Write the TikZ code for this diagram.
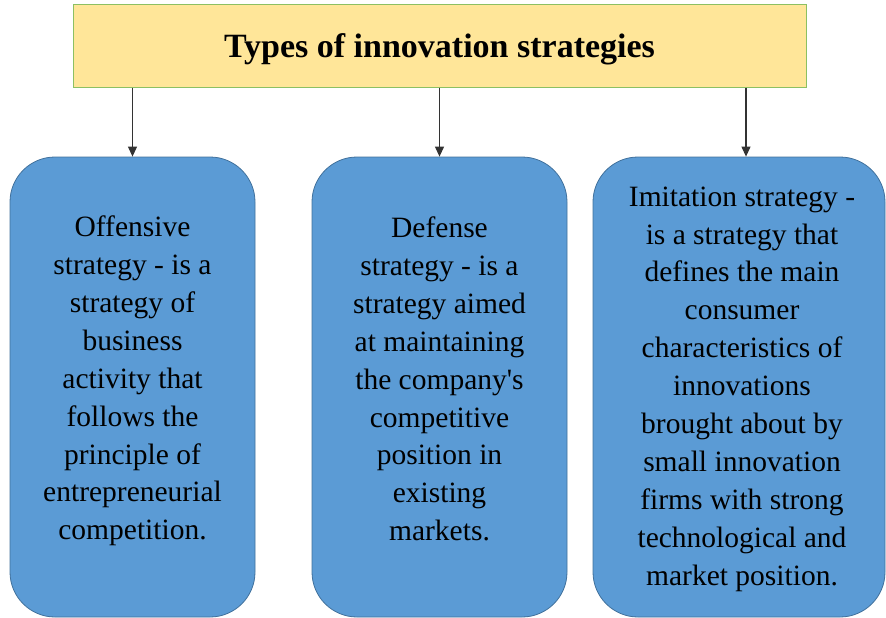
\documentclass[tikz,border=0pt]{standalone}
\usepackage{fontspec}
\setmainfont{Liberation Serif}
\usetikzlibrary{arrows.meta}

\definecolor{titlefill}{HTML}{FFE699}
\definecolor{titleline}{HTML}{8CC063}
\definecolor{stratfill}{HTML}{5B9BD5}
\definecolor{stratline}{HTML}{41719C}

\tikzset{
  titlebox/.style={draw=titleline, fill=titlefill, line width=1pt, text depth=0pt,
    font=\fontsize{34}{40}\selectfont\bfseries},
  stratbox/.style={draw=stratline, fill=stratfill, line width=0.8pt,
    rounded corners=45pt, minimum height=460pt},
  strattext/.style={align=center, font=\fontsize{29.5}{37.9}\selectfont},
  down/.style={-{Triangle[length=10pt,width=9pt]}, line width=1.1pt, draw=black!80}
}

\begin{document}
\begin{tikzpicture}[x=1pt,y=-1pt] % sizes in px of the page, y grows downwards

\useasboundingbox (0,0) rectangle (886,618);

\node[titlebox, minimum width=733pt, minimum height=82pt] (types) at (439.5,46) {Types of innovation strategies};

% the three strategy boxes
\node[stratbox, minimum width=245pt] (off) at (132.5,387) {};
\node[stratbox, minimum width=255pt] (def) at (439.5,387) {};
\node[stratbox, minimum width=292pt] (imi) at (739,387) {};

\node[strattext] (offtext) at ([yshift=6pt]off.center)
  {Offensive\\strategy - is a\\strategy of\\business\\activity that\\follows the\\principle of\\entrepreneurial\\competition.};
\node[strattext] (deftext) at ([yshift=8pt]def.center)
  {Defense\\strategy - is a\\strategy aimed\\at maintaining\\the company\textquotesingle s\\competitive\\position in\\existing\\markets.};
\node[strattext] (imitext) at ([xshift=3pt,yshift=-2pt]imi.center)
  {Imitation strategy -\\is a strategy  that\\defines the main\\consumer\\characteristics of\\innovations\\brought about by\\small innovation\\firms with strong\\technological and\\market position.};

\draw[down] (types.south -| off.north) -- (off.north);
\draw[down] (types.south -| def.north) -- (def.north);
\draw[down] ([xshift=7pt]types.south -| imi.north) -- ([xshift=7pt]imi.north);

\end{tikzpicture}
\end{document}
